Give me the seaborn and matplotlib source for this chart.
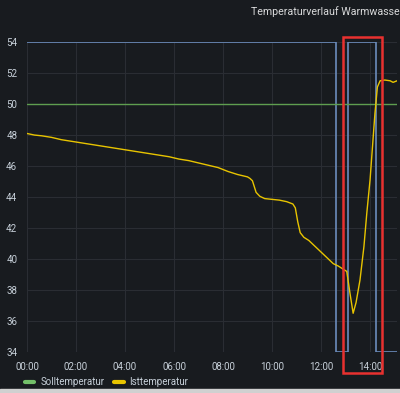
import matplotlib.pyplot as plt
import matplotlib.patches as patches
from matplotlib.lines import Line2D
import pandas as pd
import seaborn as sb

ist_hours = [0.0, 0.3, 0.6, 1.0, 1.4, 1.8, 2.2, 2.6, 3.0, 3.4, 3.8, 4.2, 4.6,
             5.0, 5.4, 5.8, 6.2, 6.6, 7.0, 7.4, 7.8, 8.2, 8.6, 9.0, 9.1, 9.2,
             9.35, 9.5, 9.7, 10.0, 10.3, 10.6, 10.85, 10.95, 11.05, 11.15,
             11.3, 11.5, 11.7, 11.9, 12.1, 12.3, 12.5, 12.7, 12.9, 13.05,
             13.18, 13.31, 13.43, 13.59, 13.75, 13.87, 14.0, 14.2, 14.3,
             14.41, 14.6, 14.82, 14.94, 15.1]
ist_temp = [48.1, 48.0, 47.95, 47.85, 47.7, 47.6, 47.5, 47.4, 47.3, 47.2, 47.1,
            47.0, 46.9, 46.8, 46.7, 46.6, 46.45, 46.35, 46.2, 46.05, 45.9,
            45.65, 45.45, 45.3, 45.2, 45.05, 44.3, 44.05, 43.9, 43.85, 43.8,
            43.7, 43.55, 43.3, 42.4, 41.7, 41.4, 41.2, 40.9, 40.6, 40.3, 40.0,
            39.7, 39.55, 39.35, 39.2, 37.8, 36.5, 37.2, 38.65, 40.8, 43.0,
            45.1, 49.4, 51.1, 51.5, 51.55, 51.5, 51.4, 51.5]

soll_hours = [0.0, 15.1]
soll_temp = [50, 50]

# the blue switching line (no legend entry in the original)
heat_hours = [0.0, 12.61, 13.1, 14.24, 15.1]
heat_temp = [54, 34, 54, 34, 34]

x_ticks = [0, 2, 4, 6, 8, 10, 12, 14]
x_labels = ["00:00", "02:00", "04:00", "06:00", "08:00", "10:00", "12:00", "14:00"]
y_ticks = [34, 36, 38, 40, 42, 44, 46, 48, 50, 52, 54]

bg = "#181b1f"
text_col = "#c7d0d9"
green = "#5f9e4f"
yellow = "#e8c400"
blue = "#6b8cbd"

sb.set_style("dark")
plt.rcParams["font.family"] = ["Roboto", "DejaVu Sans"]

fig = plt.figure(figsize=(4.0, 3.93), dpi=100, facecolor=bg)
ax = fig.add_axes([0.0675, 0.1043, 0.925, 0.7887])
ax.set_facecolor(bg)

sb.lineplot(x=heat_hours, y=heat_temp, ax=ax, color=blue, linewidth=1.2,
            drawstyle="steps-post", estimator=None)
sb.lineplot(x=soll_hours, y=soll_temp, ax=ax, color=green, linewidth=1.0,
            estimator=None)
sb.lineplot(x=ist_hours, y=ist_temp, ax=ax, color=yellow, linewidth=1.0,
            estimator=None)

ax.set_xlim(0, 15.1)
ax.set_ylim(34, 54)
ax.set_xticks(x_ticks)
ax.set_xticklabels(x_labels)
ax.set_yticks(y_ticks)
ax.set_xlabel("")
ax.set_ylabel("")
ax.tick_params(colors=text_col, labelsize=7, length=0, pad=7)
ax.grid(True, color="#2a2d33", linewidth=0.8)
for s in ax.spines.values():
    s.set_visible(False)

# the title is cut off at the right edge in the screenshot
fig.text(0.998, 0.97, "Temperaturverlauf Warmwasse", color="#d8d9da",
         fontsize=7.7, ha="right", va="center")

handles = [Line2D([], [], color="#73bf69", linewidth=3),
           Line2D([], [], color=yellow, linewidth=3)]
fig.legend(handles, ["Solltemperatur", "Isttemperatur"], loc="center left",
           bbox_to_anchor=(0.04, 0.028), ncol=2, frameon=False, fontsize=7,
           labelcolor=text_col, handlelength=1.0, handletextpad=0.6,
           columnspacing=1.0)

# red highlight box drawn over the panel
fig.patches.append(patches.Rectangle((0.858, 0.051), 0.097, 0.855,
                                     transform=fig.transFigure, fill=False,
                                     edgecolor="#e8312f", linewidth=1.8))

# light border at the bottom of the screenshot
fig.patches.append(patches.Rectangle((0, 0), 1, 0.009, transform=fig.transFigure,
                                     color="#d0d0d0"))

fig.savefig("out.png", facecolor=bg)
